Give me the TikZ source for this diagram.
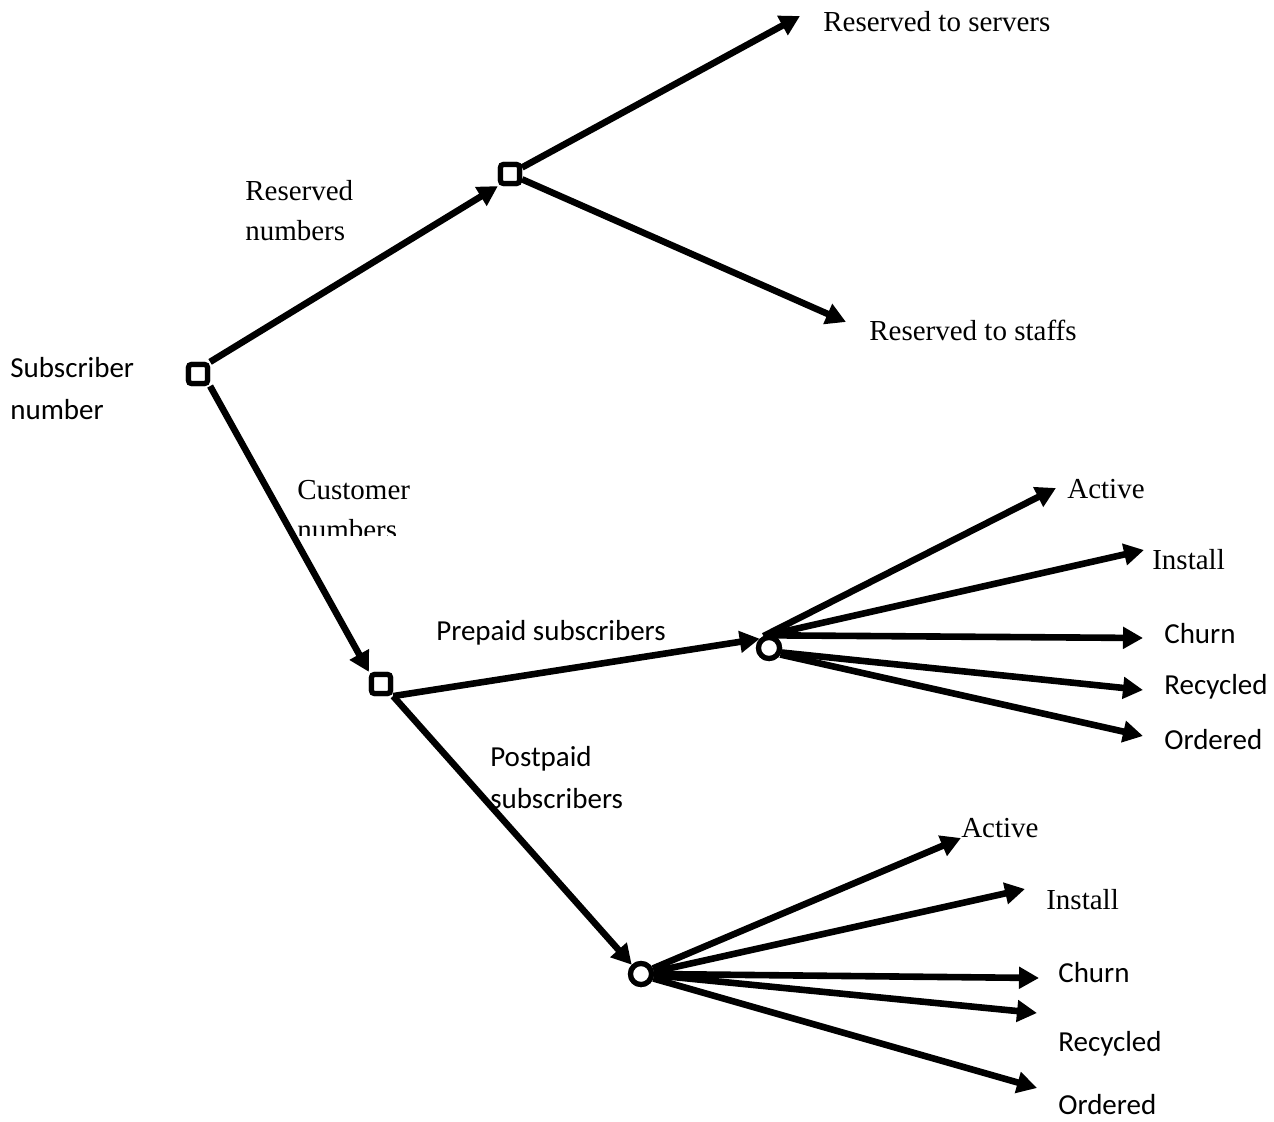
\documentclass[tikz,border=0pt]{standalone}
\usepackage{fontspec}
\setmainfont{Liberation Serif}
\newfontfamily\calibri{Carlito}
\usetikzlibrary{arrows.meta,positioning}

\tikzset{every picture/.style={line width=3.3pt}}
\tikzset{
  sqnode/.style={draw,rectangle,rounded corners=1.5pt,minimum size=9.5pt,inner sep=0pt,line width=2.6pt,fill=white},
  rndnode/.style={draw,circle,minimum size=10.5pt,inner sep=0pt,line width=2.6pt,fill=white},
  arr/.style={-{Triangle[length=10pt,width=10.5pt]},line width=3.3pt},
  serif/.style={inner sep=0pt,anchor=west,font=\fontsize{14.5}{20}\selectfont,align=left},
  sans/.style={inner sep=0pt,anchor=west,font=\calibri\fontsize{14.5}{21}\selectfont,align=left}
}

\begin{document}
\begin{tikzpicture}[x=0.5pt,y=0.5pt,yscale=-1,xscale=1]
\useasboundingbox (0,0) rectangle (1274,1122);

%Shape: Squares and Circles
\node [sqnode] (sub) at (198,374) {};
\node [sqnode] (rsv) at (510,174) {};
\node [sqnode] (cst) at (381,684) {};
\node [rndnode] (pre) at (769,648) {};
\node [rndnode] (post) at (641,974) {};

%Free ends
\coordinate (srv) at (800,16);
\coordinate (stf) at (846,322);
\coordinate (preact) at (1056,488);
\coordinate (preins) at (1144,550);
\coordinate (prechu) at (1143,638);
\coordinate (prerec) at (1143,690);
\coordinate (preord) at (1143,736);
\coordinate (postact) at (961,838);
\coordinate (postins) at (1025,889);
\coordinate (postchu) at (1039,978);
\coordinate (postrec) at (1037,1013);
\coordinate (postord) at (1037,1088);

%Straight Lines
\draw [arr] (sub.north east) -- (rsv.south west);
\draw [arr] (rsv) -- (srv);
\draw [arr] (rsv) -- (stf);
\draw [arr] (sub.south east) -- (cst.north west);
\draw [arr] (cst.south east) -- (pre.north west);
\draw [arr] (cst.south east) -- (post.north west);
%Straight Lines
\draw [arr] (pre.115) -- (preact);
\draw [arr] (pre.90) -- (preins);
\draw [arr] (pre.75) -- (prechu);
\draw [arr] (pre.-20) -- (prerec);
\draw [arr] (pre.-30) -- (preord);
%Straight Lines
\draw [arr] (post.25) -- (postact);
\draw [arr] (post.10) -- (postins);
\draw [arr] (post.east) -- (postchu);
\draw [arr] (post.-5) -- (postrec);
\draw [arr] (post.-20) -- (postord);
% redraw nodes over the line ends
\node [sqnode] at (sub) {};
\node [sqnode] at (rsv) {};
\node [sqnode] at (cst) {};
\node [rndnode] at (pre) {};
\node [rndnode] at (post) {};

% Text Node
\node [sans] (subtxt) at (7,389) {Subscriber\\number};
% Text Node
\node [serif] (rsvtxt) at (242,211) {Reserved\\numbers};
% Text Node
\node [serif] (srvtxt) at (820,22) {Reserved to servers};
% Text Node
\node [serif] (stftxt) at (866,330) {Reserved to staffs};
% Text Node
\begin{scope}
\clip (290,470) rectangle (430,536);
\node [serif] (csttxt) at (294,510) {Customer\\numbers};
\end{scope}
% Text Node
\node [sans] (pretxt) at (433,633) {Prepaid subscribers};
% Text Node
\node [sans] (posttxt) at (487,778) {Postpaid\\subscribers};
% Text Node
\node [serif] at (1064,489) {Active};
\node [serif] at (1149,560) {Install};
\node [sans] at (1161,634) {Churn};
\node [sans] at (1161,687) {Recycled};
\node [sans] at (1161,740) {Ordered};
% Text Node
\node [serif] at (958,828) {Active};
\node [serif] at (1043,900) {Install};
\node [sans] at (1055,973) {Churn};
\node [sans] at (1055,1044) {Recycled};
\node [sans] at (1055,1105) {Ordered};

\end{tikzpicture}
\end{document}
